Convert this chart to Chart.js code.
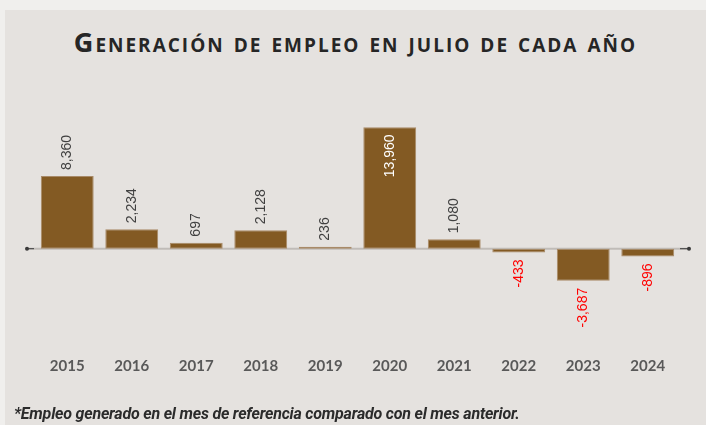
<!DOCTYPE html>
<html>
<head>
<meta charset="utf-8">
<script src="https://cdn.jsdelivr.net/npm/chart.js@4"></script>
<style>
  html, body { margin: 0; padding: 0; background: #f0efed; }
  body { width: 706px; height: 425px; overflow: hidden; position: relative; }
  .panel { position: absolute; left: 5px; top: 10px; width: 701px; height: 415px; background: #e5e2df; }
  .title { position: absolute; left: 0; top: 13px; width: 701px; text-align: center;
    font-family: "Open Sans", sans-serif; font-weight: 700; font-size: 27px; font-variant: small-caps;
    color: #262626; letter-spacing: 2px; }
  .note { position: absolute; left: 9px; top: 394px; font-family: Roboto, sans-serif;
    font-weight: 700; font-style: italic; font-size: 16px; color: #2b2b2b; letter-spacing: -0.2px; }
  canvas { position: absolute; left: 0; top: 0; }
</style>
</head>
<body>
<div class="panel">
  <div class="title">Generación de empleo en julio de cada año</div>
  <canvas id="myChart" width="701" height="415"></canvas>
  <div class="note">*Empleo generado en el mes de referencia comparado con el mes anterior.</div>
</div>
<script>
const years = ['2015', '2016', '2017', '2018', '2019', '2020', '2021', '2022', '2023', '2024']
const empleo = [8360, 2234, 697, 2128, 236, 13960, 1080, -433, -3687, -896]

// linea del cero con puntos en los extremos
const zeroLine = {
  id: 'zeroLine',
  beforeDatasetsDraw(chart) {
    const ctx = chart.ctx, a = chart.chartArea
    const y0 = chart.scales.y.getPixelForValue(0)
    ctx.save()
    ctx.strokeStyle = '#c0bcb8'
    ctx.lineWidth = 2
    ctx.beginPath(); ctx.moveTo(a.left - 8, y0); ctx.lineTo(a.right + 9, y0); ctx.stroke()
    ctx.strokeStyle = '#3a3a3a'
    ctx.lineWidth = 1
    ctx.beginPath(); ctx.moveTo(a.left - 8, y0); ctx.lineTo(a.left - 1, y0); ctx.stroke()
    ctx.beginPath(); ctx.moveTo(a.right, y0); ctx.lineTo(a.right + 9, y0); ctx.stroke()
    ctx.fillStyle = '#3a3a3a'
    ctx.beginPath(); ctx.arc(a.left - 8, y0, 2, 0, Math.PI * 2); ctx.fill()
    ctx.beginPath(); ctx.arc(a.right + 9, y0, 2, 0, Math.PI * 2); ctx.fill()
    ctx.restore()
  }
}

// etiquetas verticales
const barLabels = {
  id: 'barLabels',
  afterDatasetsDraw(chart) {
    const ctx = chart.ctx
    const maxV = Math.max(...empleo)
    chart.getDatasetMeta(0).data.forEach((bar, i) => {
      const v = empleo[i]
      const txt = v.toLocaleString('en-US')
      ctx.save()
      ctx.font = '14px "Liberation Sans", Arial, sans-serif'
      ctx.textBaseline = 'middle'
      if (v === maxV) {
        ctx.translate(bar.x, bar.y + 7)
        ctx.rotate(-Math.PI / 2)
        ctx.textAlign = 'right'
        ctx.fillStyle = '#ffffff'
      } else if (v >= 0) {
        ctx.translate(bar.x, bar.y - 6)
        ctx.rotate(-Math.PI / 2)
        ctx.textAlign = 'left'
        ctx.fillStyle = '#404040'
      } else {
        ctx.translate(bar.x, bar.y + 7)
        ctx.rotate(-Math.PI / 2)
        ctx.textAlign = 'right'
        ctx.fillStyle = '#ff0000'
      }
      ctx.fillText(txt, 0, 0)
      ctx.restore()
    })
  }
}

const myChart = new Chart(document.getElementById('myChart'), {
  type: 'bar',
  data: {
    labels: years,
    datasets: [{
      data: empleo,
      backgroundColor: '#835a23',
      borderColor: '#a88a68',
      borderWidth: 1,
      borderSkipped: false,
      categoryPercentage: 1,
      barPercentage: 0.82
    }]
  },
  options: {
    responsive: false,
    animation: false,
    layout: { padding: { left: 30, right: 26, top: 117, bottom: 43 } },
    plugins: { legend: { display: false }, tooltip: { enabled: false }, title: { display: false } },
    scales: {
      x: {
        grid: { display: false, drawTicks: false },
        border: { display: false },
        ticks: { padding: 7, color: '#595959', font: { family: 'Lato', weight: 'bold', size: 15 } }
      },
      y: { display: false, min: -11650, max: 14000 }
    }
  },
  plugins: [zeroLine, barLabels]
})
</script>
</body>
</html>
